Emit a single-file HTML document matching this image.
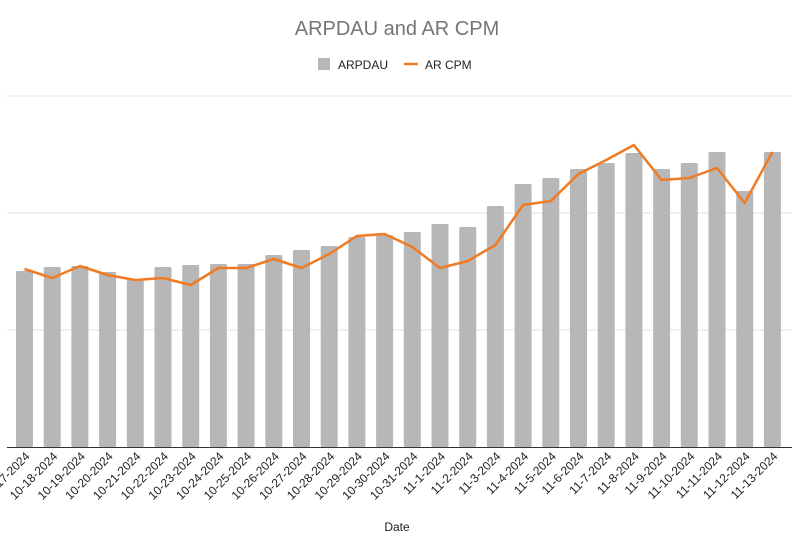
<!DOCTYPE html>
<html><head><style>body{margin:0;background:#fff}svg{display:block;font-family:"Liberation Sans",Arial,sans-serif}</style></head>
<body>
<svg width="794" height="544" viewBox="0 0 794 544">
<text x="397" y="35" text-anchor="middle" font-size="20" fill="#757575">ARPDAU and AR CPM</text>
<rect x="318" y="58" width="12" height="12" fill="#b7b7b7"/>
<text x="338" y="69" font-size="12" fill="#222">ARPDAU</text>
<line x1="404" y1="64" x2="418" y2="64" stroke="#f07b23" stroke-width="2.5"/>
<text x="425" y="69" font-size="12" fill="#222">AR CPM</text>
<g stroke="#e0e0e0" stroke-width="1">
<line x1="7" y1="96" x2="792" y2="96"/><line x1="7" y1="213" x2="792" y2="213"/><line x1="7" y1="330" x2="792" y2="330"/>
</g>
<g id="bars" fill="#b7b7b7"></g>
<line x1="7" y1="447.5" x2="792" y2="447.5" stroke="#333" stroke-width="1"/>
<polyline id="ln" fill="none" stroke="#f07b23" stroke-width="2.5" stroke-linejoin="round"/>
<g id="lbl" font-size="12" fill="#222"></g>
<text x="397" y="531" text-anchor="middle" font-size="12" fill="#222">Date</text>
<script>
var tops=[271,267,266,272,280,267,265,264,264,255,250,246,237,235,232,224,227,206,184,178,169,163,153,169,163,152,191,152];
var line=[269,278,266,275,280,278,285,268,268,259,268,254,236,234,247,268,261,245,205,201,174,160,145,180,178,168,203,152];
var labels=[];
for(var d=17;d<=31;d++)labels.push("10-"+d+"-2024");
for(var d=1;d<=13;d++)labels.push("11-"+d+"-2024");
var ns="http://www.w3.org/2000/svg",b=document.getElementById("bars"),l=document.getElementById("lbl"),pts=[];
for(var i=0;i<28;i++){
var cx=24.5+i*27.7;
var r=document.createElementNS(ns,"rect");
r.setAttribute("x",cx-8.5);r.setAttribute("y",tops[i]);r.setAttribute("width",17);r.setAttribute("height",447-tops[i]);r.setAttribute("rx",1.5);
b.appendChild(r);
pts.push(cx+","+line[i]);
var t=document.createElementNS(ns,"text");
t.setAttribute("x",cx+6);t.setAttribute("y",457);t.setAttribute("text-anchor","end");
t.setAttribute("transform","rotate(-45 "+(cx+6)+" 457)");t.textContent=labels[i];
l.appendChild(t);
}
document.getElementById("ln").setAttribute("points",pts.join(" "));
</script>
</svg>
</body></html>
